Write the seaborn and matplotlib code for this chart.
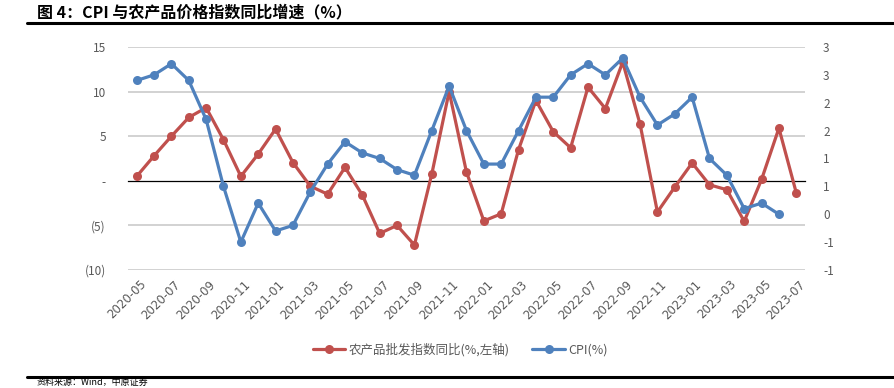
import numpy as np
import pandas as pd
import seaborn as sns
import matplotlib.pyplot as plt
import matplotlib.transforms as mtransforms
from matplotlib.lines import Line2D

# ----- Data -----
months = pd.period_range("2020-05", "2023-07", freq="M").strftime("%Y-%m").tolist()

# 农产品批发价格指数同比 (%), left axis
agri = [0.5, 2.8, 5.0, 7.1, 8.2, 4.6, 0.5, 3.0, 5.8, 2.05, -0.6, -1.5, 1.5,
        -1.6, -5.9, -5.0, -7.2, 0.75, 10.0, 0.97, -4.5, -3.7, 3.5, 9.0, 5.5,
        3.7, 10.5, 8.1, 13.3, 6.35, -3.5, -0.7, 2.0, -0.45, -1.0, -4.55, 0.15,
        5.9, -1.35]
# CPI 同比 (%), right axis (ends 2023-06)
cpi = [2.4, 2.5, 2.7, 2.4, 1.7, 0.5, -0.5, 0.2, -0.3, -0.2, 0.4, 0.9, 1.3,
       1.1, 1.0, 0.8, 0.7, 1.5, 2.3, 1.5, 0.9, 0.9, 1.5, 2.1, 2.1, 2.5, 2.7,
       2.5, 2.8, 2.1, 1.6, 1.8, 2.1, 1.0, 0.7, 0.1, 0.2, 0.0]

left_ticks = [15, 10, 5, 0, -5, -10]
left_labels = ["15", "10", "5", "-", "(5)", "(10)"]
right_ticks = [3.0, 2.5, 2.0, 1.5, 1.0, 0.5, 0.0, -0.5, -1.0]
right_labels = ["3", "3", "2", "2", "1", "1", "0", "-1", "-1"]

agri_name = "农产品批发指数同比(%,左轴)"
cpi_name = "CPI(%)"

df_agri = pd.DataFrame({"idx": np.arange(len(agri)), "val": agri})
df_cpi = pd.DataFrame({"idx": np.arange(len(cpi)), "val": cpi})

RED = "#C0504D"
BLUE = "#4F81BD"
GREY = "#595959"

# ----- Plot -----
sns.set_style("white")
plt.rcParams["font.family"] = ["Noto Sans CJK SC", "DejaVu Sans"]

fig = plt.figure(figsize=(8.94, 3.88), dpi=100)
ax = fig.add_axes([0.1432, 0.3041, 0.7572, 0.5748])
ax2 = ax.twinx()

sns.lineplot(data=df_agri, x="idx", y="val", ax=ax, color=RED, lw=2.3,
             marker="o", markersize=6.5, markeredgewidth=0, zorder=3)
sns.lineplot(data=df_cpi, x="idx", y="val", ax=ax2, color=BLUE, lw=2.3,
             marker="o", markersize=6.5, markeredgewidth=0, zorder=3)

ax.set_xlim(-0.5, len(months) - 0.5)
ax.set_ylim(-10, 15)
ax2.set_ylim(-1, 3)

ax.set_yticks(left_ticks)
ax.set_yticklabels(left_labels)
ax2.set_yticks(right_ticks)
ax2.set_yticklabels(right_labels)
for a in (ax, ax2):
    a.set_xlabel("")
    a.set_ylabel("")
    for s in ("top", "left", "right"):
        a.spines[s].set_visible(False)
ax2.spines["bottom"].set_visible(False)
ax.tick_params(axis="y", length=0, pad=16, labelsize=8.5, labelcolor=GREY)
ax2.tick_params(axis="y", length=0, pad=13, labelsize=8.5, labelcolor=GREY)

# horizontal gridlines on the left scale (zero is the axis line)
for t in left_ticks:
    if t != 0:
        ax.axhline(t, color="#CFCFCF", lw=1.3, zorder=1)

# x axis line at zero with ticks between categories
ax.spines["bottom"].set_position(("data", 0))
ax.spines["bottom"].set_color("black")
ax.spines["bottom"].set_linewidth(0.9)
ax.spines["bottom"].set_zorder(2)
ax.set_xticks(np.arange(-0.5, len(months) - 1, 2))
ax.set_xticklabels([])
ax.tick_params(axis="x", direction="out", length=4, width=0.9, color="black")
ax2.tick_params(axis="x", length=0)

# category labels at the bottom
trans = mtransforms.blended_transform_factory(ax.transData, ax.transAxes)
for i in range(0, len(months), 2):
    ax.text(i + 0.15, -0.035, months[i], transform=trans, rotation=45,
            ha="right", va="top", rotation_mode="anchor", fontsize=8.5,
            color=GREY, family="DejaVu Sans")

# legend
handles = [
    Line2D([], [], color=RED, lw=2.3, marker="o", markersize=6.5, markeredgewidth=0),
    Line2D([], [], color=BLUE, lw=2.3, marker="o", markersize=6.5, markeredgewidth=0),
]
fig.legend(handles, [agri_name, cpi_name], loc="center",
           bbox_to_anchor=(0.515, 0.098), ncol=2, frameon=False,
           fontsize=9, labelcolor=GREY, handlelength=2.6, columnspacing=1.8,
           handletextpad=0.3)
for a in (ax, ax2):
    if a.get_legend() is not None:
        a.get_legend().remove()

# title, rules and source
fig.text(0.041, 1 - 12 / 388, "图 4：CPI 与农产品价格指数同比增速（%）",
         ha="left", va="center", fontsize=11.5, fontweight="bold", color="black")
fig.add_artist(Line2D([27 / 894, 1], [1 - 23 / 388] * 2, color="black", lw=2.2))
fig.add_artist(Line2D([27 / 894, 1], [1 - 377 / 388] * 2, color="black", lw=2.2))
fig.text(0.041, 1 - 387 / 388, "资料来源：Wind，中原证券", ha="left", va="bottom",
         fontsize=6.5, color="black")

fig.savefig("out.png", dpi=100)
